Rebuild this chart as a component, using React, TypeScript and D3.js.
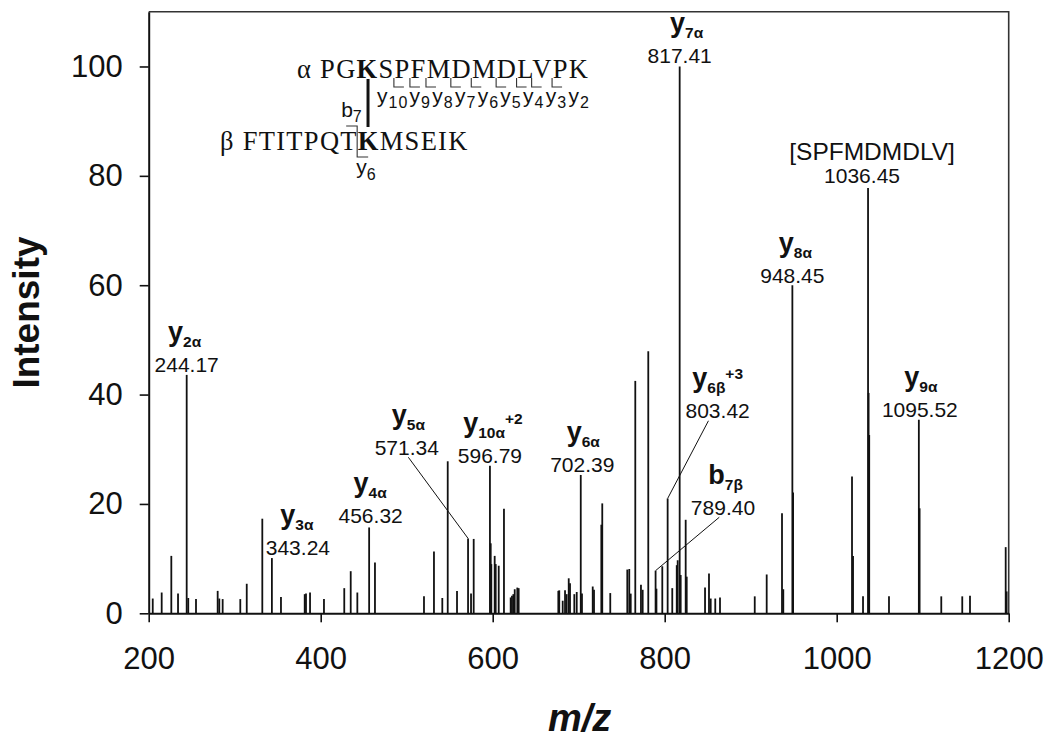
import React, { useEffect, useRef } from 'react';
import * as d3 from 'd3';

const WIDTH = 1050;
const HEIGHT = 742;

// Spectrum peaks (m/z, relative intensity)
const peakMz = [
  204.7, 215.1, 226.3, 234.1, 244.17, 246.0, 255.0, 280.2, 282.1, 286.0,
  306.5, 314.0, 332.1, 343.24, 353.8, 381.4, 382.9, 387.6, 403.8, 427.4,
  434.9, 442.6, 456.32, 463.1, 520.1, 531.7, 541.4, 547.7, 558.5, 571.34,
  574.8, 577.9, 596.79, 597.7, 598.4, 602.3, 603.5, 607.0, 613.1, 620.9,
  622.4, 624.0, 625.6, 628.6, 630.2, 676.3, 677.4, 681.4, 684.1, 686.0,
  688.4, 689.9, 694.9, 697.7, 702.39, 703.8, 716.3, 717.8, 726.3, 727.4,
  736.7, 756.5, 758.8, 760.5, 765.8, 772.4, 774.4, 780.9, 789.40, 790.4,
  797.2, 803.42, 808.8, 814.0, 815.1, 817.41, 818.6, 824.4, 825.6, 846.9,
  851.5, 853.5, 858.8, 864.3, 904.7, 918.6, 936.4, 937.9, 948.45, 949.3,
  1017.8, 1019.0, 1030.6, 1036.45, 1037.1, 1037.8, 1060.8, 1095.52, 1096.4, 1121.6,
  1146.0, 1155.0, 1196.5, 1197.6,
];
const peakIntensity = [
  2.7, 3.8, 10.5, 3.6, 43.6, 2.8, 2.6, 4.1, 2.7, 2.6,
  2.6, 5.4, 17.3, 10.1, 3.0, 3.5, 3.6, 3.8, 2.6, 4.6,
  7.7, 3.8, 15.7, 9.3, 3.1, 11.3, 2.8, 27.8, 4.1, 13.7,
  3.6, 13.6, 27.0, 12.8, 9.0, 10.5, 9.0, 8.7, 19.1, 2.9,
  3.2, 3.5, 4.4, 4.7, 4.6, 4.1, 4.2, 2.3, 4.2, 3.5,
  6.4, 5.5, 3.5, 3.9, 25.3, 3.6, 4.9, 4.3, 16.2, 20.1,
  3.7, 8.0, 8.1, 3.6, 42.5, 5.2, 4.3, 47.9, 7.8, 4.5,
  8.6, 21.0, 4.6, 8.8, 9.7, 100, 7.0, 17.1, 6.7, 4.7,
  7.3, 2.7, 2.7, 2.9, 3.1, 7.1, 18.3, 4.4, 60, 22.1,
  25.0, 10.5, 3.1, 77.8, 40.3, 32.6, 3.1, 35.4, 19.2, 3.1,
  3.1, 3.2, 12.1, 4.0,
];

const xTicks = [200, 400, 600, 800, 1000, 1200];
const yTicks = [0, 20, 40, 60, 80, 100];

// Annotated fragment ions
const annMz = [244.17, 343.24, 456.32, 571.34, 596.79, 702.39, 789.40, 803.42, 817.41, 948.45, 1036.45, 1095.52];
const annValue = ['244.17', '343.24', '456.32', '571.34', '596.79', '702.39', '789.40', '803.42', '817.41', '948.45', '1036.45', '1095.52'];
const annIon = ['y', 'y', 'y', 'y', 'y', 'y', 'b', 'y', 'y', 'y', '', 'y'];
const annSub = ['2α', '3α', '4α', '5α', '10α', '6α', '7β', '6β', '7α', '8α', '', '9α'];
const annSup = ['', '', '', '', '+2', '', '', '+3', '', '', '', ''];
const annName = ['', '', '', '', '', '', '', '', '', '', '[SPFMDMDLV]', ''];

// label layout (pixel offsets from the peak top)
const annNumDx = [0, 26, 1.5, -61.3, 0, 1.5, 67.4, 50, 0, 0, -6, 1];
const annNumDy = [-3, -3, -4, -83.4, -2.5, -3, -55.7, -80, -3, -2, -5, -3];
const annLabDx = [-2, 25, 1, -59.7, 3, 2.5, 70, 50, 7, 3, 4, 2];
const annLeader = [false, false, false, true, false, false, true, true, false, false, false, false];
const annLeadDx = [0, 0, 0, 1.6, 0, 0, -3.7, -9.2, 0, 0, 0, 0];

// Peptide inset
const alphaParts = ['α PG', 'K', 'SPFMDMDLVPK'];
const betaParts = ['β FTITPQT', 'K', 'MSEIK'];
const alphaYIons = ['10', '9', '8', '7', '6', '5', '4', '3', '2'];
const alphaCleaveIdx = [6, 7, 8, 9, 10, 11, 12, 13, 14];
const betaCleaveIdx = 9;

const SANS = "'Liberation Sans', Arial, Helvetica, sans-serif";
const SERIF = "'Liberation Serif', 'Times New Roman', serif";

export default function App() {
  const ref = useRef<SVGSVGElement>(null);

  useEffect(() => {
    const svg = d3.select(ref.current);
    svg.selectAll('*').remove();

    const x = d3.scaleLinear().domain([200, 1200]).range([148.7, 1008.7]);
    const y = d3.scaleLinear().domain([0, 110]).range([613.3, 11.8]);

    // frame (top + right)
    svg.append('path')
      .attr('d', `M${x(200)},${y(110)}H${x(1200)}V${y(0)}`)
      .attr('fill', 'none').attr('stroke', '#333').attr('stroke-width', 1.6);

    // peaks
    const peaks = peakMz.map((m, i) => ({ m, v: peakIntensity[i] }));
    svg.append('g').selectAll('line').data(peaks).join('line')
      .attr('x1', d => x(d.m)).attr('x2', d => x(d.m))
      .attr('y1', y(0)).attr('y2', d => y(d.v))
      .attr('stroke', '#111').attr('stroke-width', 1.8);

    // axes
    const gx = svg.append('g').attr('transform', `translate(0,${y(0)})`)
      .call(d3.axisBottom(x).tickValues(xTicks).tickSize(9).tickSizeOuter(0).tickPadding(25).tickFormat(d3.format('d')));
    gx.select('.domain').attr('stroke', '#111').attr('stroke-width', 2);
    gx.selectAll('.tick line').attr('stroke', '#111').attr('stroke-width', 1.6);
    gx.selectAll('.tick text').attr('font-family', SANS).attr('font-size', 31).attr('fill', '#111');

    const gy = svg.append('g').attr('transform', `translate(${x(200)},0)`)
      .call(d3.axisLeft(y).tickValues(yTicks).tickSize(9).tickSizeOuter(0).tickPadding(17).tickFormat(d3.format('d')));
    gy.select('.domain').attr('stroke', '#111').attr('stroke-width', 2);
    gy.selectAll('.tick line').attr('stroke', '#111').attr('stroke-width', 1.6);
    gy.selectAll('.tick text').attr('font-family', SANS).attr('font-size', 31).attr('fill', '#111');

    // axis titles
    svg.append('text')
      .attr('x', (x(200) + x(1200)) / 2 + 1).attr('y', 731)
      .attr('text-anchor', 'middle')
      .attr('font-family', SANS).attr('font-weight', 'bold').attr('font-style', 'italic')
      .attr('font-size', 38).attr('fill', '#111').text('m/z');
    svg.append('text')
      .attr('transform', `translate(39,${(y(0) + y(110)) / 2}) rotate(-90)`)
      .attr('text-anchor', 'middle')
      .attr('font-family', SANS).attr('font-weight', 'bold')
      .attr('font-size', 37).attr('fill', '#111').text('Intensity');

    // annotations
    const ga = svg.append('g');
    annMz.forEach((m, i) => {
      const idx = peakMz.indexOf(m);
      const px = x(m);
      const top = y(peakIntensity[idx]);
      const nx = px + annNumDx[i];
      const ny = top + annNumDy[i];
      ga.append('text').attr('x', nx).attr('y', ny)
        .attr('text-anchor', 'middle').attr('font-family', SANS)
        .attr('font-size', 21).attr('fill', '#111').text(annValue[i]);
      if (annName[i]) {
        ga.append('text').attr('x', px + annLabDx[i]).attr('y', ny - 22.5)
          .attr('text-anchor', 'middle').attr('font-family', SANS)
          .attr('font-size', 24.5).attr('fill', '#111').text(annName[i]);
      } else {
        const t = ga.append('text').attr('x', px + annLabDx[i]).attr('y', ny - 31)
          .attr('text-anchor', 'middle').attr('font-family', SANS)
          .attr('font-weight', 'bold').attr('fill', '#111');
        t.append('tspan').attr('font-size', 27).text(annIon[i]);
        t.append('tspan').attr('font-size', 15.5).attr('dy', 6).text(annSub[i]);
        if (annSup[i]) t.append('tspan').attr('font-size', 15.5).attr('dy', -14).text(annSup[i]);
      }
      if (annLeader[i]) {
        ga.append('line')
          .attr('x1', nx + annLeadDx[i]).attr('y1', ny + 2.3)
          .attr('x2', px).attr('y2', top)
          .attr('stroke', '#111').attr('stroke-width', 1);
      }
    });

    // peptide inset
    const gi = svg.append('g');
    const alpha = gi.append('text').attr('x', 297).attr('y', 77.5)
      .attr('font-family', SERIF).attr('font-size', 26.5).attr('letter-spacing', 1.3).attr('fill', '#111');
    alphaParts.forEach((p, i) => alpha.append('tspan').attr('font-weight', i === 1 ? 'bold' : 'normal').text(p));
    const beta = gi.append('text').attr('x', 220).attr('y', 150)
      .attr('font-family', SERIF).attr('font-size', 26.5).attr('letter-spacing', 1.3).attr('fill', '#111');
    betaParts.forEach((p, i) => beta.append('tspan').attr('font-weight', i === 1 ? 'bold' : 'normal').text(p));

    const an = alpha.node() as SVGTextElement;
    const bn = beta.node() as SVGTextElement;
    const kb = bn.getExtentOfChar(betaCleaveIdx);
    const barX = kb.x + kb.width / 2 - 0.75;
    gi.append('line').attr('x1', barX).attr('x2', barX).attr('y1', 79).attr('y2', 127)
      .attr('stroke', '#111').attr('stroke-width', 3);

    alphaCleaveIdx.forEach(ci => {
      const bx = an.getStartPositionOfChar(ci).x - 0.65;
      gi.append('path').attr('d', `M${bx},78V87H${bx + 10}`)
        .attr('fill', 'none').attr('stroke', '#333').attr('stroke-width', 1.1);
    });
    const yl = gi.append('text').attr('x', 377).attr('y', 102.5)
      .attr('font-family', SANS).attr('letter-spacing', 1).attr('fill', '#111');
    alphaYIons.forEach(n => {
      yl.append('tspan').attr('font-size', 21).attr('dy', 0).text('y');
      yl.append('tspan').attr('font-size', 16).attr('dy', 5.5).text(n);
      yl.append('tspan').attr('font-size', 1).attr('dy', -5.5).text(' ');
    });

    const bxb = bn.getStartPositionOfChar(betaCleaveIdx).x - 0.65;
    gi.append('path').attr('d', `M${bxb - 11},126H${bxb}V157H${bxb + 11}`)
      .attr('fill', 'none').attr('stroke', '#333').attr('stroke-width', 1.1);
    const b7 = gi.append('text').attr('x', bxb - 16).attr('y', 117)
      .attr('font-family', SANS).attr('fill', '#111');
    b7.append('tspan').attr('font-size', 21).text('b');
    b7.append('tspan').attr('font-size', 16).attr('dy', 5).text('7');
    const y6 = gi.append('text').attr('x', bxb - 1).attr('y', 174)
      .attr('font-family', SANS).attr('fill', '#111');
    y6.append('tspan').attr('font-size', 21).text('y');
    y6.append('tspan').attr('font-size', 16).attr('dy', 5.5).text('6');
  }, []);

  return (
    <svg ref={ref} width={WIDTH} height={HEIGHT}
      style={{ position: 'absolute', left: 0, top: 0, background: '#fff' }} />
  );
}
